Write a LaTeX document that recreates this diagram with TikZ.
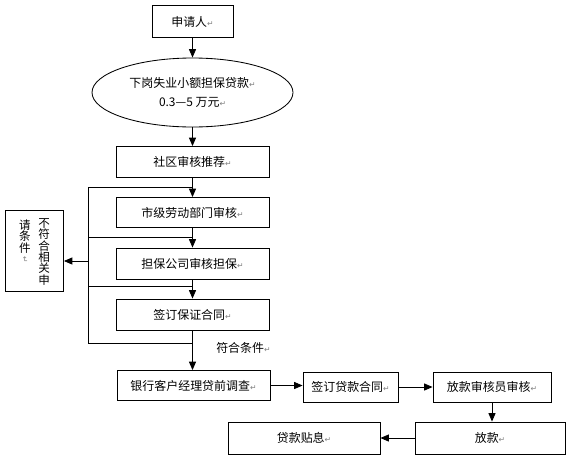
\documentclass[tikz,border=0pt]{standalone}
\usepackage{fontspec}
\setmainfont{Noto Sans CJK SC}
\newfontfamily\markfont{DejaVu Sans}
\usetikzlibrary{arrows.meta}
\usetikzlibrary{shapes.geometric}
\newcommand{\pmark}{{\markfont\fontsize{5.5}{5.5}\selectfont\textcolor{gray}{↵}}}
\newcommand{\flowbox}[6]{   % name, x, y, width, height, text
	\node[stepbox, minimum width=#4*0.025cm, minimum height=#5*0.025cm] (#1) at (#2, #3) {#6\pmark};
}
\newcommand{\vcol}[1]{%   one column of upright text, rows split by \cr
	\vtop{\baselineskip=8.1pt\lineskiplimit=-20pt\lineskip=0pt\halign{\hfil##\hfil\cr#1\crcr}}%
}
\tikzset{
	stepbox/.style={draw, line width=0.6pt, inner sep=0pt, font=\fontsize{8.5}{10}\selectfont},
	flow/.style={-{Triangle[length=6pt, width=5pt]}, line width=0.6pt},
	loopline/.style={line width=0.6pt}
}

\begin{document}
\begin{tikzpicture}[x=0.025cm, y=-0.025cm]
\useasboundingbox (0, 0) rectangle (570, 461);

% main column
\flowbox{applicant}{192.5}{21.5}{81}{32}{申请人}
\node[stepbox, ellipse, minimum width=201*0.025cm, minimum height=69*0.025cm, align=center] (loan) at (192.5, 92.5)
	{下岗失业小额担保贷款\pmark\\[4pt]0.3—5 万元\pmark};
\flowbox{community}{192.5}{162}{153}{31}{社区审核推荐}
\flowbox{city}{192.5}{212.5}{153}{30}{市级劳动部门审核}
\flowbox{guarantee}{192.5}{263.5}{153}{31}{担保公司审核担保}
\flowbox{contract}{192.5}{314.5}{153}{31}{签订保证合同}
\flowbox{bank}{193.5}{385.5}{153}{30}{银行客户经理贷前调查}

% bottom row
\flowbox{loancontract}{350.5}{387}{95}{30}{签订贷款合同}
\flowbox{auditor}{492}{387}{118}{30}{放款审核员审核}
\flowbox{release}{490}{438}{150}{32}{放款}
\flowbox{subsidy}{304}{438}{152}{32}{贷款贴息}

% rejected
\node[stepbox, minimum width=58*0.025cm, minimum height=81*0.025cm, font=\fontsize{8.2}{10}\selectfont] (reject) at (34.5, 250.5)
	{\raisebox{16.5pt}[0pt][0pt]{\raisebox{-1.4pt}{\vcol{请\cr 条\cr 件\cr\raisebox{5pt}{\rotatebox{-90}{\pmark}}}}\hspace{5.5pt}\vcol{不\cr 符\cr 合\cr 相\cr 关\cr 申}}};

% junctions of the return line
\coordinate (j1) at (192.5, 187);
\coordinate (j2) at (192.5, 237);
\coordinate (j3) at (192.5, 286);
\coordinate (j4) at (192.5, 343);
\coordinate (r1) at (88, 187);
\coordinate (r2) at (88, 237);
\coordinate (r3) at (88, 286);
\coordinate (r4) at (88, 343);
\coordinate (rmid) at (88, 261);

\draw[flow] (applicant) -- (loan);
\draw[flow] (loan) -- (community);
\draw[flow] (community) -- (city);
\draw[flow] (city) -- (guarantee);
\draw[flow] (guarantee) -- (contract);
\draw[flow] (contract.south) -- (contract.south |- bank.north);
\node[font=\fontsize{8.5}{10}\selectfont, anchor=west, inner sep=0pt] (fit) at (216, 348) {符合条件\pmark};

\draw[loopline] (j1) -- (r1) -- (r4) -- (j4);
\draw[loopline] (j2) -- (r2);
\draw[loopline] (j3) -- (r3);
\draw[flow] (rmid) -- (rmid -| reject.east);

\draw[flow] (bank) -- (bank -| loancontract.west);
\draw[flow] (loancontract) -- (auditor);
\draw[flow] (auditor.south) -- (auditor.south |- release.north);
\draw[flow] (release) -- (subsidy);
\end{tikzpicture}
\end{document}
